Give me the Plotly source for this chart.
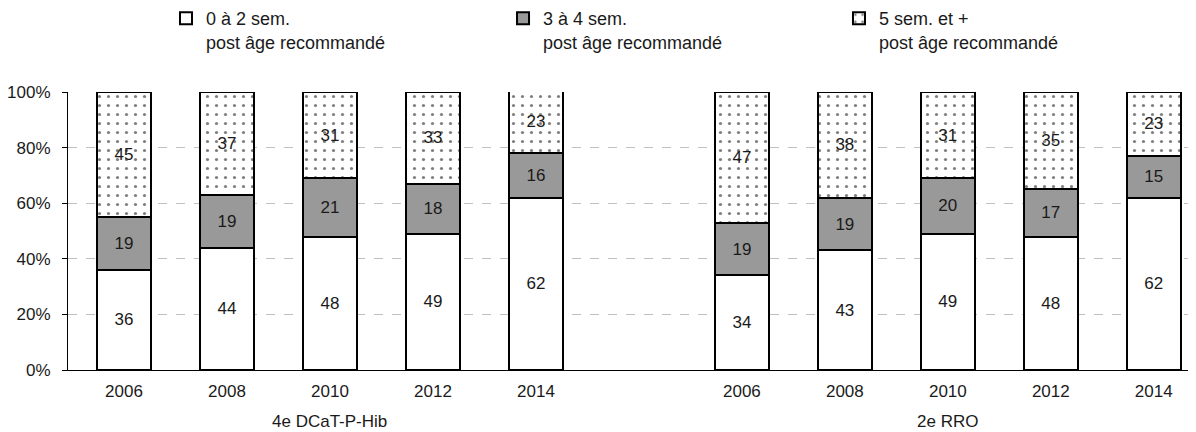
import plotly.graph_objects as go

years = ["2006", "2008", "2010", "2012", "2014"]
groups = ["4e DCaT-P-Hib", "2e RRO"]
series_names = ["0 à 2 sem.<br>post âge recommandé",
                "3 à 4 sem.<br>post âge recommandé",
                "5 sem. et +<br>post âge recommandé"]

# values per group, per series (in %)
g1_s1 = [36, 44, 48, 49, 62]
g1_s2 = [19, 19, 21, 18, 16]
g1_s3 = [45, 37, 31, 33, 23]
g2_s1 = [34, 43, 49, 48, 62]
g2_s2 = [19, 19, 20, 17, 15]
g2_s3 = [47, 38, 31, 35, 23]

y_ticks = [0, 20, 40, 60, 80, 100]
y_tick_labels = ["0%", "20%", "40%", "60%", "80%", "100%"]

# x positions: group 1 at slots 0..4, an empty slot, group 2 at slots 6..10
n = len(years)
x_pos = list(range(n)) + [n + 1 + i for i in range(n)]
x_labels = years + years

s1 = g1_s1 + g2_s1
s2 = g1_s2 + g2_s2
s3 = g1_s3 + g2_s3

FONT = "Liberation Sans, Arial, Helvetica, sans-serif"
TXT = "#1a1a1a"
FS = 17
line = dict(color="black", width=2)

fig = go.Figure()
fig.add_trace(go.Bar(
    x=x_pos, y=s1, name=series_names[0], legend="legend", showlegend=True,
    marker=dict(color="white", line=line),
    text=s1, textposition="inside", insidetextanchor="middle", textangle=0,
    textfont=dict(size=FS, color=TXT, family=FONT),
))
fig.add_trace(go.Bar(
    x=x_pos, y=s2, name=series_names[1], legend="legend2", showlegend=True,
    marker=dict(color="#999999", line=line),
    text=s2, textposition="inside", insidetextanchor="middle", textangle=0,
    textfont=dict(size=FS, color=TXT, family=FONT),
))
fig.add_trace(go.Bar(
    x=x_pos, y=s3, name=series_names[2], legend="legend3", showlegend=True,
    marker=dict(color="white", line=line,
                pattern=dict(shape=".", fgcolor="black", bgcolor="white",
                             size=9, solidity=0.1)),
    text=s3, textposition="inside", insidetextanchor="middle", textangle=0,
    textfont=dict(size=FS, color=TXT, family=FONT),
))

leg_common = dict(orientation="v", yref="paper",
                  yanchor="top", xanchor="left", y=1.3306,
                  valign="top", itemwidth=30, bgcolor="rgba(0,0,0,0)",
                  borderwidth=0,
                  font=dict(size=18, color=TXT, family=FONT),
                  tracegroupgap=0)

annotations = []
for gi, g in enumerate(groups):
    center = (x_pos[gi * n] + x_pos[gi * n + n - 1]) / 2
    annotations.append(dict(x=center, y=-0.187, xref="x", yref="paper",
                            text=g, showarrow=False, yanchor="middle",
                            font=dict(size=FS, color=TXT, family=FONT)))

fig.update_layout(
    width=1196, height=432,
    margin=dict(l=60, r=8, t=84, b=70, autoexpand=False),
    barmode="stack", bargap=0.48,
    plot_bgcolor="white", paper_bgcolor="white",
    font=dict(family=FONT, size=FS, color=TXT),
    showlegend=True,
    legend=dict(leg_common, xref="container", x=0.1321),
    legend2=dict(leg_common, xref="container", x=0.4139),
    legend3=dict(leg_common, xref="container", x=0.6948),
    annotations=annotations,
    xaxis=dict(range=[-0.544, 10.41], tickvals=x_pos, ticktext=x_labels,
               automargin=False,
               showline=True, linecolor="black", linewidth=1,
               showgrid=False, zeroline=False,
               ticks="outside", ticklen=6, tickcolor="rgba(0,0,0,0)",
               tickfont=dict(size=FS, color=TXT, family=FONT)),
    yaxis=dict(range=[0, 100], tickvals=y_ticks, ticktext=y_tick_labels,
               automargin=False,
               showline=True, linecolor="black", linewidth=1,
               ticks="outside", ticklen=5, tickcolor="black",
               ticklabelstandoff=8,
               showgrid=True, gridcolor="#c0c0c0", griddash="dash", gridwidth=1,
               zeroline=False,
               tickfont=dict(size=FS, color=TXT, family=FONT)),
)

fig.write_html("out.html")
